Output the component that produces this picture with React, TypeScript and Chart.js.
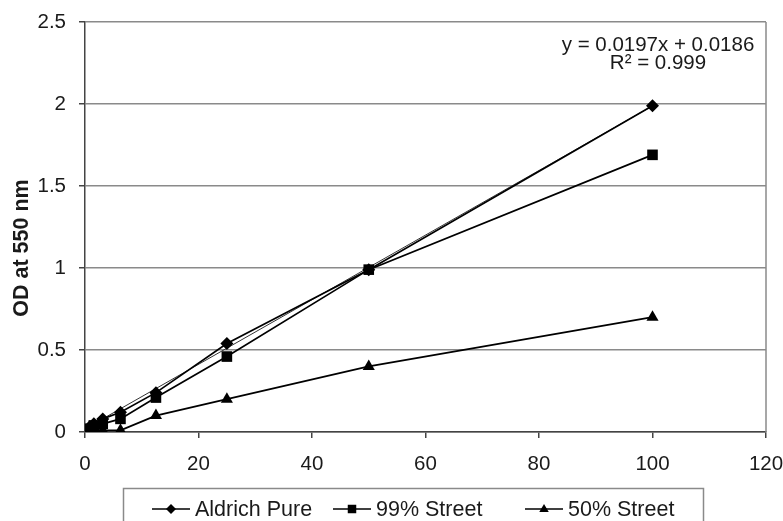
import React, { useEffect, useRef } from "react";
import { Chart, registerables } from "chart.js";

Chart.register(...registerables);

const concentrations = [0, 0.78, 1.56, 3.125, 6.25, 12.5, 25, 50, 100];
const aldrichPure = [0.01, 0.03, 0.05, 0.08, 0.12, 0.24, 0.54, 0.99, 1.99];
const street99 = [0.01, 0.02, 0.04, 0.05, 0.08, 0.21, 0.46, 0.99, 1.69];
const street50 = [0.0, 0.01, 0.01, 0.01, 0.01, 0.1, 0.2, 0.4, 0.7];
const seriesNames = ["Aldrich Pure", "99% Street", "50% Street"];
const trendSlope = 0.0197;
const trendIntercept = 0.0186;
const trendX = [0, 100];
const equationLines = ["y = 0.0197x + 0.0186", "R\u00b2 = 0.999"];
const yTitle = "OD at 550 nm";

const FONT = "'Liberation Sans', Arial, sans-serif";
const pointStyles = ["rectRot", "rect", "triangle"];
const pointRadii = [6.5, 7.5, 7];

function drawMarker(ctx: CanvasRenderingContext2D, style: string, x: number, y: number, r: number) {
  ctx.beginPath();
  if (style === "rectRot") {
    ctx.moveTo(x, y - r);
    ctx.lineTo(x + r, y);
    ctx.lineTo(x, y + r);
    ctx.lineTo(x - r, y);
  } else if (style === "rect") {
    const s = r * 0.85;
    ctx.rect(x - s, y - s, 2 * s, 2 * s);
  } else {
    ctx.moveTo(x, y - r);
    ctx.lineTo(x + r * 0.95, y + r * 0.6);
    ctx.lineTo(x - r * 0.95, y + r * 0.6);
  }
  ctx.closePath();
  ctx.fill();
}

const decorPlugin = {
  id: "decor",
  afterDraw(chart: any) {
    const ctx: CanvasRenderingContext2D = chart.ctx;
    const a = chart.chartArea;
    ctx.save();
    // plot frame right side
    ctx.strokeStyle = "#8a8a8a";
    ctx.lineWidth = 1.5;
    ctx.beginPath();
    ctx.moveTo(a.right, a.top);
    ctx.lineTo(a.right, a.bottom);
    ctx.stroke();

    // equation text
    ctx.fillStyle = "#1a1a1a";
    ctx.font = `20.5px ${FONT}`;
    ctx.textAlign = "center";
    ctx.textBaseline = "middle";
    ctx.fillText(equationLines[0], 658, 45);
    ctx.fillText(equationLines[1], 658, 63);

    // y title
    ctx.save();
    ctx.translate(22, 248);
    ctx.rotate(-Math.PI / 2);
    ctx.font = `bold 21.5px ${FONT}`;
    ctx.fillText(yTitle, 0, 0);
    ctx.restore();

    // legend
    ctx.strokeStyle = "#8a8a8a";
    ctx.lineWidth = 1.5;
    ctx.strokeRect(123.5, 488.5, 580, 40);
    const starts = [152, 333, 525];
    const ly = 509;
    ctx.font = `21.5px ${FONT}`;
    ctx.textAlign = "left";
    seriesNames.forEach((name, i) => {
      const x0 = starts[i];
      ctx.strokeStyle = "#000";
      ctx.lineWidth = 1.6;
      ctx.beginPath();
      ctx.moveTo(x0, ly);
      ctx.lineTo(x0 + 38, ly);
      ctx.stroke();
      ctx.fillStyle = "#000";
      drawMarker(ctx, pointStyles[i], x0 + 19, ly, 5);
      ctx.fillStyle = "#1a1a1a";
      ctx.fillText(name, x0 + 43, ly + 1);
    });
    ctx.restore();
  },
};

export default function App() {
  const canvasRef = useRef<HTMLCanvasElement | null>(null);

  useEffect(() => {
    document.body.style.margin = "0";
    const canvas = canvasRef.current;
    if (!canvas) return;
    const mk = (ys: number[]) => concentrations.map((x, i) => ({ x, y: ys[i] }));
    const seriesData = [aldrichPure, street99, street50];
    const datasets: any[] = seriesData.map((ys, i) => ({
      label: seriesNames[i],
      data: mk(ys),
      borderColor: "#000",
      backgroundColor: "#000",
      borderWidth: 1.7,
      pointStyle: pointStyles[i],
      pointRadius: pointRadii[i],
      pointBorderWidth: 0,
      showLine: true,
      tension: 0,
    }));
    datasets.push({
      label: "trend",
      data: trendX.map((x) => ({ x, y: trendSlope * x + trendIntercept })),
      borderColor: "#333",
      borderWidth: 1,
      pointRadius: 0,
      showLine: true,
    });

    const chart = new Chart(canvas, {
      type: "scatter",
      data: { datasets },
      options: {
        animation: false,
        responsive: false,
        layout: { padding: { top: 22, right: 17, left: 0, bottom: 0 } },
        plugins: { legend: { display: false }, tooltip: { enabled: false } },
        scales: {
          x: {
            type: "linear",
            min: 0,
            max: 120,
            ticks: { stepSize: 20, color: "#1a1a1a", font: { family: FONT, size: 20.5 }, padding: 14 },
            grid: { drawOnChartArea: false, drawTicks: true, tickLength: 6, tickColor: "#444", lineWidth: 1.5 },
            border: { color: "#444", width: 1.5 },
            afterFit: (s: any) => {
              s.height = 89;
              s.paddingLeft = 0;
              s.paddingRight = 0;
            },
          },
          y: {
            type: "linear",
            min: 0,
            max: 2.5,
            ticks: {
              stepSize: 0.5,
              color: "#1a1a1a",
              font: { family: FONT, size: 20.5 },
              padding: 13,
              callback: (v: any) => String(Number(v)),
            },
            grid: { color: "#8a8a8a", lineWidth: 1.5, tickLength: 6, tickColor: "#444" },
            border: { color: "#444", width: 1.5 },
            afterFit: (s: any) => {
              s.width = 85;
              s.paddingTop = 0;
              s.paddingBottom = 0;
            },
          },
        },
      },
      plugins: [decorPlugin],
    } as any);
    return () => chart.destroy();
  }, []);

  return (
    <div style={{ position: "absolute", left: 0, top: 0, width: 783, height: 521 }}>
      <canvas ref={canvasRef} width={783} height={521} />
    </div>
  );
}
